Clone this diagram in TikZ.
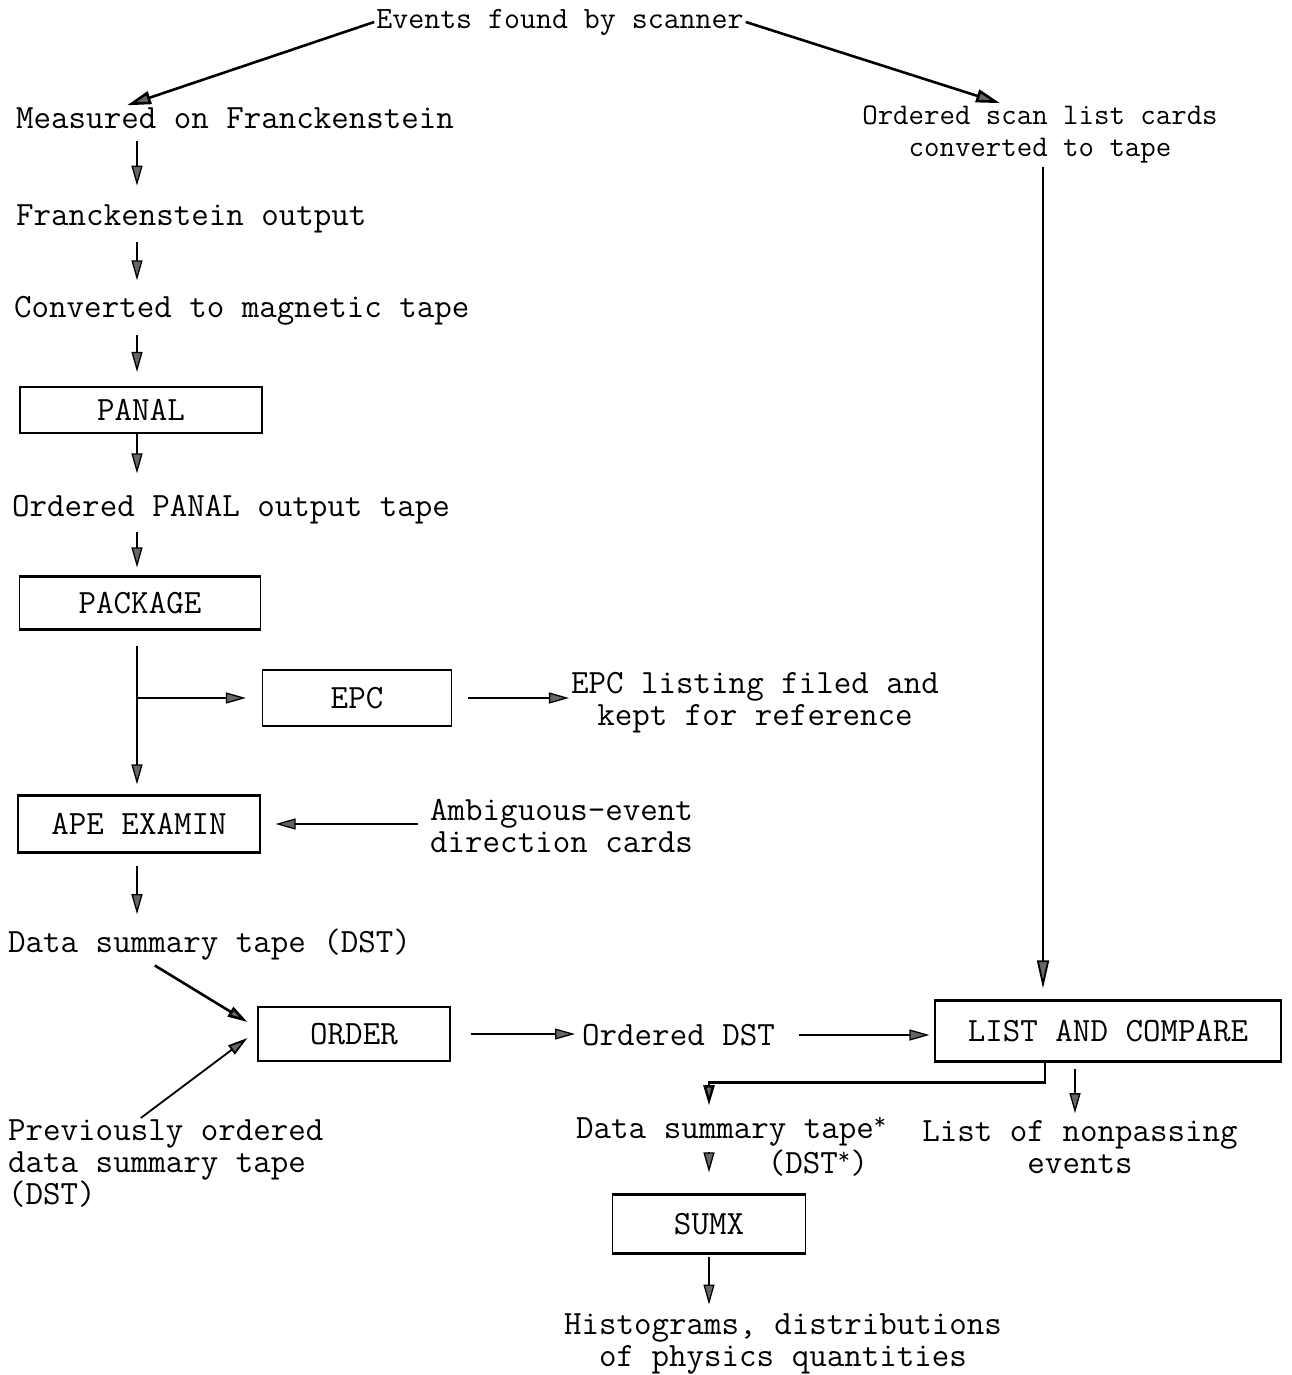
\documentclass[tikz,border=0pt]{standalone}
\usepackage{fontspec}
\usetikzlibrary{arrows.meta,calc}
\tikzset{
  txt/.style={font=\ttfamily\fontsize{34}{32}\selectfont, inner sep=2pt},
  box/.style={txt, draw, line width=1.2pt, inner sep=0pt},
  arr/.style={-{Triangle[length=20pt,width=11pt,fill=black!60]}, line width=1.3pt},
  arrb/.style={arr, line width=2.6pt},
  edge/.style={line width=2.6pt}
}
\begin{document}
\begin{tikzpicture}[x=1pt,y=-1pt]
\useasboundingbox[fill=white] (0,0) rectangle (1292,1375);
\coordinate (col) at (137,0);
% texts
\node[txt, font=\ttfamily\fontsize{31}{32}\selectfont] (events) at (560,22) {Events found by scanner};
\node[txt,anchor=west] (meas) at (14,118) {Measured on Franckenstein};
\node[txt,align=center,font=\ttfamily\fontsize{30}{32}\selectfont] (osl) at (1040,134) {Ordered scan list cards\\converted to tape};
\node[txt,anchor=west] (fout) at (14,219) {Franckenstein output};
\node[txt,anchor=west] (conv) at (12,311) {Converted to magnetic tape};
\node[box,minimum width=242pt,minimum height=45pt] (panal) at (141,410) {PANAL};
\node[txt,anchor=west] (opanal) at (10,510) {Ordered PANAL output tape};
\node[box,minimum width=241pt,minimum height=52pt] (package) at (140,603) {PACKAGE};
\node[box,minimum width=189pt,minimum height=55pt] (epc) at (357,698) {EPC};
\node[txt,align=center] (epcl) at (755,703) {EPC listing filed and\\kept for reference};
\node[box,minimum width=242pt,minimum height=56pt] (ape) at (139,824) {APE EXAMIN};
\node[txt,align=left,anchor=west] (amb) at (428,826) {Ambiguous-event\\direction cards};
\node[txt,anchor=west] (dst) at (6,945) {Data summary tape (DST)};
\node[box,minimum width=192pt,minimum height=53pt] (order) at (354,1034) {ORDER};
\node[txt,align=left,anchor=west] (prev) at (6,1164) {Previously ordered\\data summary tape\\(DST)};
\node[txt,anchor=west] (odst) at (580,1035) {Ordered DST};
\node[box,minimum width=346pt,minimum height=60pt] (lac) at (1108,1031) {LIST AND COMPARE};
\node[txt,anchor=west] (dsts) at (574,1132) {Data summary tape\textsuperscript{*}};
\node[txt] (dstsb) at (818,1163) {(DST\textsuperscript{*})};
\node[txt,align=center] (lnp) at (1080,1147) {List of nonpassing\\events};
\node[box,minimum width=193pt,minimum height=58pt] (sumx) at (709,1224) {SUMX};
\node[txt,align=center] (hist) at (783,1344) {Histograms, distributions\\of physics quantities};
% thick top and bottom box edges
\foreach \n in {panal,package,epc,ape,order,lac,sumx}{
  \draw[edge] (\n.north west) -- (\n.north east);
  \draw[edge] (\n.south west) -- (\n.south east);
}
% connectors
\draw[arrb, -{Triangle[length=24pt,width=13pt,fill=black!60]}] (events.west) -- ([xshift=-108pt]meas.north);
\draw[arrb, -{Triangle[length=24pt,width=13pt,fill=black!60]}] (events.east) -- ([xshift=-40pt]osl.north);
\draw[arr, shorten <=10pt, shorten >=17pt] (meas.south -| col) -- (fout.north -| col);
\draw[arr, shorten <=7pt, shorten >=14pt] (fout.south -| col) -- (conv.north -| col);
\draw[arr, shorten <=7pt, shorten >=15pt] (conv.south -| col) -- (panal.north -| col);
\draw[arr, shorten <=1pt, shorten >=20pt] (panal.south -| col) -- (opanal.north -| col);
\draw[arr, shorten <=5pt, shorten >=9pt] (opanal.south -| col) -- (package.north -| col);
\draw[arr, shorten <=16pt, shorten >=11pt] (package.south -| col) -- (ape.north -| col);
\draw[arr, shorten >=16pt] (epc.west -| col) -- (epc.west);
\draw[arr, shorten <=16pt] (epc.east) -- (epc.east -| epcl.west);
\draw[arr, shorten <=10pt, shorten >=15pt] (ape.east -| amb.west) -- (ape.east);
\draw[arr, shorten <=13pt, shorten >=13pt] (ape.south -| col) -- (dst.north -| col);
\draw[arrb, shorten <=5pt] ([xshift=-59pt]dst.south) -- ([xshift=-10pt,yshift=12pt]order.west);
\draw[arr, line width=1.8pt] ([xshift=-25pt]prev.north) -- ([xshift=-10pt,yshift=-4pt]order.west);
\draw[arr, shorten <=20pt, shorten >=5pt] (order.east) -- (order.east -| odst.west);
\draw[arr, shorten <=22pt, shorten >=5pt] (odst.east) -- (odst.east -| lac.west);
\draw[arr, line width=1.8pt, shorten <=2pt, shorten >=12pt,
      -{Triangle[length=28pt,width=12pt,fill=black!60]}]
  ($(lac.north |- osl.south)+(-65,0)$) -- ($(lac.north)+(-65,0)$);
\draw[arr, line width=2.4pt, shorten >=10pt]
  ($(lac.south)+(-63,0)$) -- ++(0,21) -| (sumx.north |- dsts.north);
\draw[arr, shorten <=7pt, shorten >=5pt]
  ($(lac.south)+(-33,0)$) -- ($(lac.south |- lnp.north)+(-33,0)$);
\draw[arr, shorten <=3pt, shorten >=22pt] (sumx.north |- dsts.south) -- (sumx.north);
\draw[arr, shorten <=3pt, shorten >=7pt] (sumx.south) -- (sumx.south |- hist.north);
\end{tikzpicture}
\end{document}
